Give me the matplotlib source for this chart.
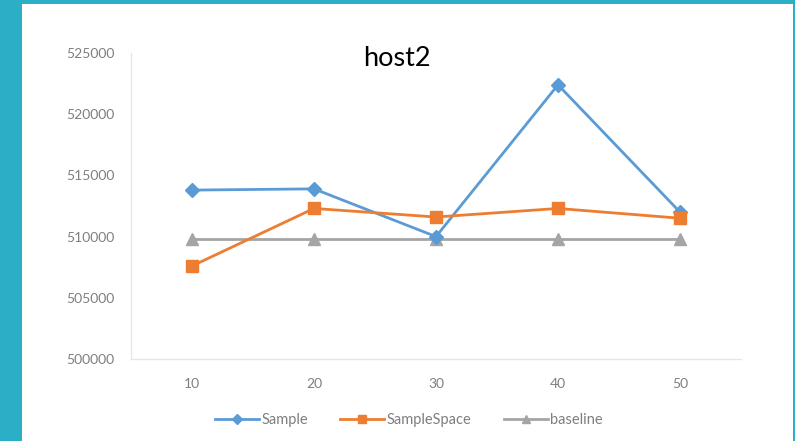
import matplotlib.pyplot as plt
from matplotlib.patches import Rectangle

plt.rcParams['font.family'] = ['Lato', 'DejaVu Sans']

# Data
categories = ['10', '20', '30', '40', '50']
sample = [513800, 513900, 510000, 522400, 512000]
sample_space = [507600, 512300, 511600, 512300, 511500]
baseline = [509800, 509800, 509800, 509800, 509800]
y_ticks = [500000, 505000, 510000, 515000, 520000, 525000]

fig = plt.figure(figsize=(7.95, 4.41), dpi=100)
fig.patch.set_facecolor('#2AAFC6')
# white card inside the teal frame
fig.patches.append(Rectangle((22 / 795, 0), (793 - 22) / 795, (441 - 4) / 441,
                             transform=fig.transFigure, facecolor='white',
                             edgecolor='none', zorder=-10))

ax = fig.add_axes([131 / 795, 82 / 441, 610 / 795, 306 / 441])
ax.set_facecolor('none')

x = list(range(len(categories)))
ax.plot(x, sample, color='#5B9BD5', lw=2, marker='D', ms=7, label='Sample', zorder=3)
ax.plot(x, sample_space, color='#ED7D31', lw=2, marker='s', ms=9, label='SampleSpace', zorder=3)
ax.plot(x, baseline, color='#A5A5A5', lw=2, marker='^', ms=9, label='baseline', zorder=2)

ax.set_xlim(-0.5, len(categories) - 0.5)
ax.set_ylim(500000, 525000)
ax.set_xticks(x)
ax.set_xticklabels(categories)
ax.set_yticks(y_ticks)
ax.set_yticklabels([str(v) for v in y_ticks])
ax.tick_params(axis='both', length=0, colors='#7F7F7F', labelsize=10)
ax.tick_params(axis='y', pad=12)
ax.tick_params(axis='x', pad=14)

for side in ['top', 'right']:
    ax.spines[side].set_visible(False)
for side in ['left', 'bottom']:
    ax.spines[side].set_color('#E6E6E6')
    ax.spines[side].set_linewidth(1)

fig.text(397 / 795, 1 - 59 / 441, 'host2', ha='center', va='center',
         fontsize=19.5, color='black')

fig.legend(loc='center', bbox_to_anchor=(409 / 795, 1 - 420 / 441), ncol=3,
           frameon=False, fontsize=10.5, labelcolor='#7F7F7F', handlelength=3.0,
           handletextpad=0.2, columnspacing=2.2, markerscale=0.7)

fig.savefig('out.png', dpi=100, facecolor=fig.get_facecolor())
